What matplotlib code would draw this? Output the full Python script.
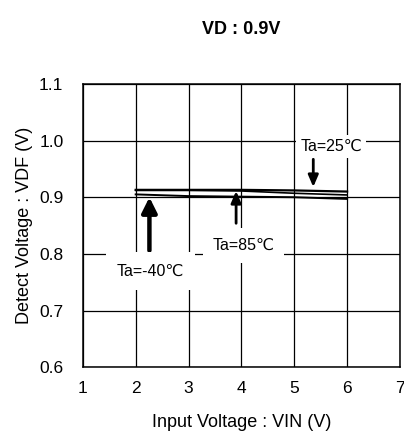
import numpy as np
import matplotlib.pyplot as plt

plt.rcParams['font.family'] = ['Liberation Sans', 'DejaVu Sans']

# dados
vin = [2, 3, 4, 5, 6]
vdf_m40 = [0.913, 0.913, 0.913, 0.912, 0.910]
vdf_25 = [0.912, 0.912, 0.911, 0.907, 0.904]
vdf_85 = [0.905, 0.902, 0.901, 0.900, 0.897]

x_ticks = [1, 2, 3, 4, 5, 6, 7]
y_ticks = [0.6, 0.7, 0.8, 0.9, 1.0, 1.1]
y_labels = ['0.6', '0.7', '0.8', '0.9', '1.0', '1.1']

fig = plt.figure(figsize=(4.04, 4.44), dpi=100)
ax = fig.add_axes([0.205, 0.173, 0.785, 0.638])

ax.plot(vin, vdf_m40, color='black', lw=1.6, zorder=3)
ax.plot(vin, vdf_25, color='black', lw=1.2, zorder=3)
ax.plot(vin, vdf_85, color='black', lw=1.4, zorder=3)

ax.set_xlim(1, 7)
ax.set_ylim(0.6, 1.1)
ax.set_xticks(x_ticks)
ax.set_yticks(y_ticks)
ax.set_yticklabels(y_labels)
ax.tick_params(length=0, labelsize=12.5, colors='black')
ax.tick_params(axis='y', pad=14)
ax.tick_params(axis='x', pad=10)
ax.grid(True, color='black', lw=0.9)
ax.set_axisbelow(True)
for s in ax.spines.values():
    s.set_linewidth(1.1)

# setas
ax.annotate('', xy=(2.26, 0.900), xytext=(2.26, 0.806),
            arrowprops=dict(arrowstyle='-|>,head_length=0.9,head_width=0.45',
                            lw=3.2, color='black', shrinkA=0, shrinkB=0), zorder=4)
ax.annotate('', xy=(3.9, 0.911), xytext=(3.9, 0.854),
            arrowprops=dict(arrowstyle='-|>,head_length=0.7,head_width=0.3',
                            lw=2.0, color='black', shrinkA=0, shrinkB=0), zorder=4)
ax.annotate('', xy=(5.36, 0.918), xytext=(5.36, 0.967),
            arrowprops=dict(arrowstyle='-|>,head_length=0.7,head_width=0.3',
                            lw=2.0, color='black', shrinkA=0, shrinkB=0), zorder=4)

ax.text(5.7, 0.99, 'Ta=25℃', ha='center', va='center', fontsize=11.5,
        bbox=dict(facecolor='white', edgecolor='none', pad=3), zorder=5)
ax.text(4.04, 0.815, 'Ta=85℃', ha='center', va='center', fontsize=11.5,
        bbox=dict(facecolor='white', edgecolor='none', pad=7), zorder=5)
ax.text(2.28, 0.770, 'Ta=-40℃', ha='center', va='center', fontsize=11.5,
        bbox=dict(facecolor='white', edgecolor='none', pad=8), zorder=5)

ax.set_title('VD : 0.9V', fontsize=13, fontweight='bold', pad=36)
ax.set_xlabel('Input Voltage : VIN (V)', fontsize=13, labelpad=13)
ax.set_ylabel('Detect Voltage : VDF (V)', fontsize=13, labelpad=4)

plt.savefig('out.png', dpi=100)
